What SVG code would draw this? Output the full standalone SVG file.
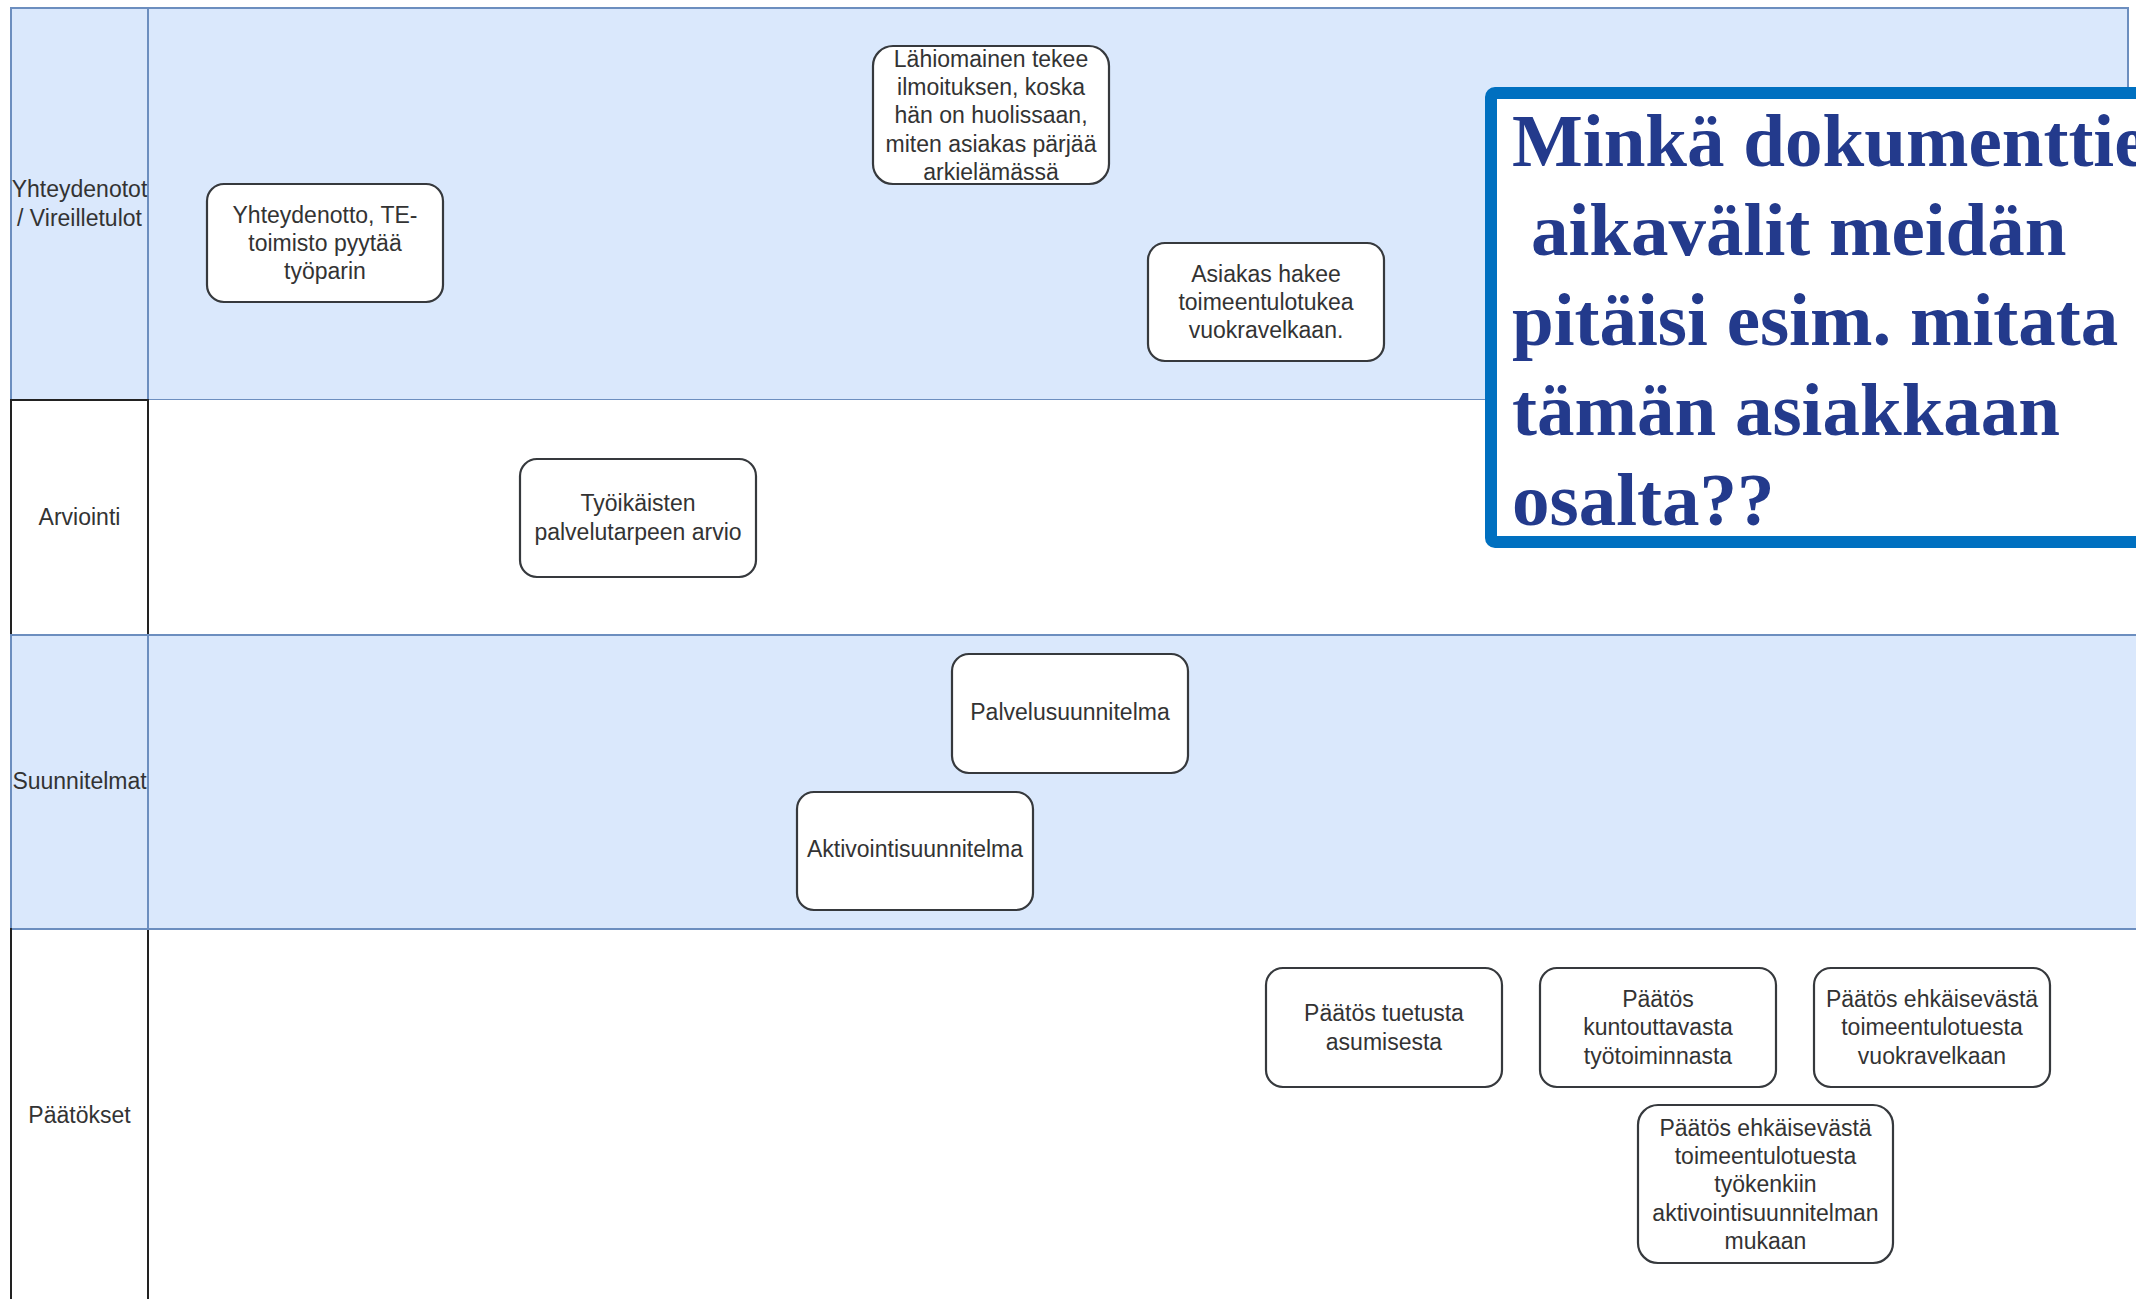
<svg xmlns="http://www.w3.org/2000/svg" width="2136" height="1299" viewBox="0 0 2136 1299">
  <style>
    .lane-blue { fill: #dae8fc; stroke: #6c8ebf; stroke-width: 2; }
    .lane-white { fill: #ffffff; stroke: none; }
    .lane-head { fill: none; stroke: #222222; stroke-width: 2; }
    .lane-div { stroke: #6c8ebf; stroke-width: 2; }
    .lane-label { font-family: "Liberation Sans", Arial, sans-serif; font-size: 23px; fill: #333333; text-anchor: middle; }
    .node rect { fill: #ffffff; stroke: #36393d; stroke-width: 2.2; }
    .node text { font-family: "Liberation Sans", Arial, sans-serif; font-size: 23px; fill: #333333; text-anchor: middle; }
    .callout-box { fill: #ffffff; stroke: #0070c0; stroke-width: 12; }
    .callout-text { font-family: "Liberation Serif", "Times New Roman", serif; font-weight: bold; font-size: 75px; fill: #233a8c; }
  </style>

  <rect x="0" y="0" width="2136" height="1299" fill="#ffffff"/>

  <!-- swimlanes -->
  <g id="lanes">
    <g id="lane-yhteydenotot">
      <rect class="lane-blue" x="11" y="8" width="2117" height="392"/>
      <line class="lane-div" x1="148" y1="8" x2="148" y2="400"/>
      <text class="lane-label" x="79.5" y="197">Yhteydenotot</text>
      <text class="lane-label" x="79.5" y="226">/ Vireilletulot</text>
    </g>
    <g id="lane-arviointi">
      <rect class="lane-white" x="11" y="400" width="2125" height="235"/>
      <rect class="lane-head" x="11" y="400" width="137" height="235"/>
      <text class="lane-label" x="79.5" y="525">Arviointi</text>
    </g>
    <g id="lane-suunnitelmat">
      <rect class="lane-blue" x="11" y="635" width="2140" height="294"/>
      <line class="lane-div" x1="148" y1="635" x2="148" y2="929"/>
      <text class="lane-label" x="79.5" y="789">Suunnitelmat</text>
    </g>
    <g id="lane-paatokset">
      <rect class="lane-white" x="11" y="930" width="2125" height="380"/>
      <rect class="lane-head" x="11" y="929" width="137" height="390"/>
      <line x1="12" y1="929" x2="2136" y2="929" stroke="#6c8ebf" stroke-width="2"/>
      <text class="lane-label" x="79.5" y="1123">Päätökset</text>
    </g>
  </g>

  <!-- no links between the steps -->
  <g id="connectors"/>

  <!-- process steps -->
  <g id="yhteydenotto" class="node">
    <rect x="207" y="184" width="236" height="118" rx="17"/>
    <text x="325" y="223">Yhteydenotto, TE-</text>
    <text x="325" y="251">toimisto pyytää</text>
    <text x="325" y="279">työparin</text>
  </g>
  <g id="lahiomainen" class="node">
    <rect x="873" y="46" width="236" height="138" rx="20"/>
    <text x="991" y="67">Lähiomainen tekee</text>
    <text x="991" y="95">ilmoituksen, koska</text>
    <text x="991" y="123">hän on huolissaan,</text>
    <text x="991" y="152">miten asiakas pärjää</text>
    <text x="991" y="180">arkielämässä</text>
  </g>
  <g id="asiakas-hakee" class="node">
    <rect x="1148" y="243" width="236" height="118" rx="17"/>
    <text x="1266" y="282">Asiakas hakee</text>
    <text x="1266" y="310">toimeentulotukea</text>
    <text x="1266" y="338">vuokravelkaan.</text>
  </g>
  <g id="palvelutarpeen-arvio" class="node">
    <rect x="520" y="459" width="236" height="118" rx="17"/>
    <text x="638" y="511">Työikäisten</text>
    <text x="638" y="540">palvelutarpeen arvio</text>
  </g>
  <g id="palvelusuunnitelma" class="node">
    <rect x="952" y="654" width="236" height="119" rx="17"/>
    <text x="1070" y="720">Palvelusuunnitelma</text>
  </g>
  <g id="aktivointisuunnitelma" class="node">
    <rect x="797" y="792" width="236" height="118" rx="17"/>
    <text x="915" y="857">Aktivointisuunnitelma</text>
  </g>
  <g id="paatos-tuettu-asuminen" class="node">
    <rect x="1266" y="968" width="236" height="119" rx="17"/>
    <text x="1384" y="1021">Päätös tuetusta</text>
    <text x="1384" y="1050">asumisesta</text>
  </g>
  <g id="paatos-kuntouttava" class="node">
    <rect x="1540" y="968" width="236" height="119" rx="17"/>
    <text x="1658" y="1007">Päätös</text>
    <text x="1658" y="1035">kuntouttavasta</text>
    <text x="1658" y="1064">työtoiminnasta</text>
  </g>
  <g id="paatos-vuokravelka" class="node">
    <rect x="1814" y="968" width="236" height="119" rx="17"/>
    <text x="1932" y="1007">Päätös ehkäisevästä</text>
    <text x="1932" y="1035">toimeentulotuesta</text>
    <text x="1932" y="1064">vuokravelkaan</text>
  </g>
  <g id="paatos-tyokengat" class="node">
    <rect x="1638" y="1105" width="255" height="158" rx="20"/>
    <text x="1765.5" y="1136">Päätös ehkäisevästä</text>
    <text x="1765.5" y="1164">toimeentulotuesta</text>
    <text x="1765.5" y="1192">työkenkiin</text>
    <text x="1765.5" y="1221">aktivointisuunnitelman</text>
    <text x="1765.5" y="1249">mukaan</text>
  </g>

  <!-- question box -->
  <g id="kysymys">
    <rect class="callout-box" x="1491" y="93" width="700" height="449" rx="4"/>
    <text class="callout-text" x="1512" y="166">Minkä dokumenttien</text>
    <text class="callout-text" x="1531" y="255">aikavälit meidän</text>
    <text class="callout-text" x="1512" y="345">pitäisi esim. mitata</text>
    <text class="callout-text" x="1512" y="435">tämän asiakkaan</text>
    <text class="callout-text" x="1512" y="525">osalta??</text>
  </g>
</svg>
